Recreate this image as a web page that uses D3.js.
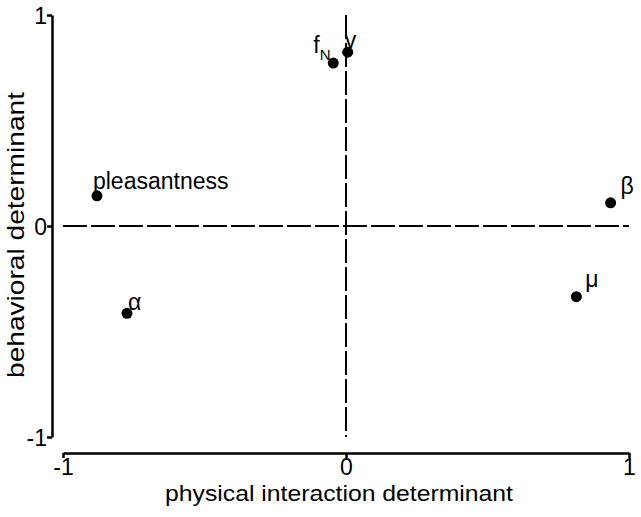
<!DOCTYPE html>
<html>
<head>
<meta charset="utf-8">
<script src="https://cdn.jsdelivr.net/npm/d3@7"></script>
<style>
  html, body { margin: 0; padding: 0; background: #fff; }
  svg { display: block; }
  text { font-family: "Liberation Sans", Arial, sans-serif; fill: #000; }
</style>
</head>
<body>
<svg id="chart" width="641" height="517"></svg>
<script>
// ---- data ----
const labels = ["pleasantness", "\u03b1", "f", "v", "\u03b2", "\u03bc"];
const xValues = [-0.88, -0.774, -0.045, 0.006, 0.935, 0.814];
const yValues = [0.143, -0.414, 0.772, 0.824, 0.110, -0.335];
const subscripts = ["", "", "N", "", "", ""];
const xTicks = [-1, 0, 1];
const yTicks = [-1, 0, 1];
const xTitle = "physical interaction determinant";
const yTitle = "behavioral determinant";

// ---- layout (not data) ----
const labelOffsets = [[-4, -7], [1, -3], [-20, -10], [-3, -4], [10, -9], [9, -10]];

const svg = d3.select("#chart");
const x = d3.scaleLinear().domain([-1, 1]).range([63, 629]);
const y = d3.scaleLinear().domain([-1, 1]).range([437, 15]);

// dashed zero lines
svg.append("line")
  .attr("x1", x(-1)).attr("x2", x(1))
  .attr("y1", y(0)).attr("y2", y(0))
  .attr("stroke", "#000").attr("stroke-width", 2)
  .attr("stroke-dasharray", "24,4");
svg.append("line")
  .attr("x1", x(0)).attr("x2", x(0))
  .attr("y1", y(1)).attr("y2", y(-1))
  .attr("stroke", "#000").attr("stroke-width", 2)
  .attr("stroke-dasharray", "24,4");

// axes
const fmt = d => d < 0 ? "-" + Math.abs(d) : String(d);
const xAxis = d3.axisBottom(x).tickValues(xTicks).tickSize(5).tickSizeOuter(0).tickFormat(fmt);
const gx = svg.append("g").attr("transform", "translate(0,453)").call(xAxis);
const yAxis = d3.axisLeft(y).tickValues(yTicks).tickSize(5).tickSizeOuter(0).tickFormat(fmt);
const gy = svg.append("g").attr("transform", "translate(52,0)").call(yAxis);

[gx, gy].forEach(g => {
  g.select(".domain").attr("stroke", "#000").attr("stroke-width", 2.5);
  g.selectAll(".tick line").attr("stroke", "#000").attr("stroke-width", 2.5);
  g.selectAll(".tick text")
    .attr("font-family", "'Liberation Sans', Arial, sans-serif")
    .attr("font-size", 23).attr("fill", "#000");
});
gx.selectAll(".tick text").attr("dy", 0).attr("y", 22);
gy.selectAll(".tick text").attr("x", -5).attr("dy", "0.36em");

// axis titles
svg.append("text")
  .attr("x", 339).attr("y", 501)
  .attr("text-anchor", "middle")
  .attr("font-size", 22)
  .attr("textLength", 348).attr("lengthAdjust", "spacingAndGlyphs")
  .text(xTitle);
svg.append("text")
  .attr("transform", "translate(24,235) rotate(-90)")
  .attr("text-anchor", "middle")
  .attr("font-size", 24)
  .attr("textLength", 286).attr("lengthAdjust", "spacingAndGlyphs")
  .text(yTitle);

// points
const pts = labels.map((l, i) => ({ label: l, sub: subscripts[i], x: xValues[i], y: yValues[i], off: labelOffsets[i] }));
svg.selectAll("circle.pt").data(pts).enter().append("circle")
  .attr("class", "pt")
  .attr("cx", d => x(d.x)).attr("cy", d => y(d.y))
  .attr("r", 5.5).attr("fill", "#000");

const lt = svg.selectAll("text.lbl").data(pts).enter().append("text")
  .attr("class", "lbl")
  .attr("x", d => x(d.x) + d.off[0])
  .attr("y", d => y(d.y) + d.off[1])
  .attr("font-size", 23);
lt.append("tspan").text(d => d.label);
lt.filter(d => d.sub).append("tspan")
  .attr("dy", 7).attr("font-size", 15).text(d => d.sub);
</script>
</body>
</html>
